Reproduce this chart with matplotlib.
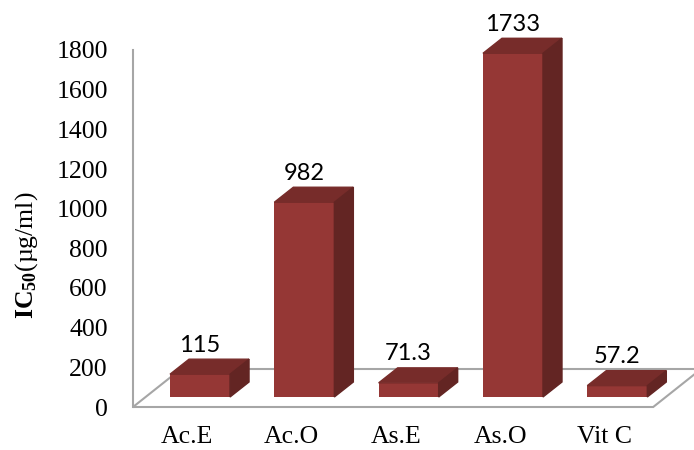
import matplotlib.pyplot as plt
from matplotlib.patches import Polygon

categories = ["Ac.E", "Ac.O", "As.E", "As.O", "Vit C"]
ic50 = [115, 982, 71.3, 1733, 57.2]
value_labels = ["115", "982", "71.3", "1733", "57.2"]
yticks = [0, 200, 400, 600, 800, 1000, 1200, 1400, 1600, 1800]

plt.rcParams['mathtext.fontset'] = 'custom'
plt.rcParams['mathtext.rm'] = 'Liberation Serif'
plt.rcParams['mathtext.bf'] = 'Liberation Serif:bold'

W, H = 694, 450
fig = plt.figure(figsize=(W / 100, H / 100), dpi=100)
ax = fig.add_axes([133 / W, 43 / H, (W - 133) / W, 357 / H])
ax.set_xlim(-0.5216, 4.856)
ax.set_ylim(0, 1800)

# pixel -> data unit helpers for the fake 3d depth
px_x = 1 / 104.3
px_y = 1800 / 357
slant = 1.26

front = "#953735"
top = "#772C2A"
side = "#632523"
grey = "#A6A6A6"

# floor of the 3d plot
fd = 38
floor = Polygon([(-0.5216, 0), (4.465, 0),
                 (4.465 + fd * slant * px_x, fd * px_y),
                 (-0.5216 + fd * slant * px_x, fd * px_y)],
                closed=True, fill=False, edgecolor=grey, lw=1.5,
                zorder=1, clip_on=False)
ax.add_patch(floor)

base = 10 * px_y
shift = 10 * slant * px_x
bw = 60 * px_x
bdx = 19 * px_x
bdy = 15 * px_y

for i, v in enumerate(ic50):
    xc = i + shift
    x0, x1 = xc - bw / 2, xc + bw / 2
    ax.bar(xc, v, width=bw, bottom=base, color=front, zorder=3, clip_on=False)
    ax.add_patch(Polygon([(x0, base + v), (x1, base + v),
                          (x1 + bdx, base + v + bdy), (x0 + bdx, base + v + bdy)],
                         closed=True, color=top, zorder=3, clip_on=False))
    ax.add_patch(Polygon([(x1, base), (x1 + bdx, base + bdy),
                          (x1 + bdx, base + v + bdy), (x1, base + v)],
                         closed=True, color=side, zorder=3, clip_on=False))
    ax.annotate(value_labels[i], (xc, base + v + bdy), xytext=(0, 10),
                textcoords="offset points", ha="center", va="center",
                fontsize=17, family="Lato", annotation_clip=False)

for s in ["top", "right", "bottom"]:
    ax.spines[s].set_visible(False)
ax.spines["left"].set_color(grey)
ax.spines["left"].set_linewidth(1.5)

ax.set_yticks(yticks)
ax.set_yticklabels([str(t) for t in yticks], family="Liberation Serif", fontsize=18.5)
ax.set_xticks(range(len(categories)))
ax.set_xticklabels(categories, family="Liberation Serif", fontsize=18.5)
ax.tick_params(axis="y", length=0, pad=18)
ax.tick_params(axis="x", length=0, pad=14)

fig.text(27 / W, 1 - 255 / H, r"$\mathbf{IC_{50}}$(µg/ml)", rotation=90,
         ha="center", va="center", family="Liberation Serif", fontsize=18.5)

fig.savefig("out.png", dpi=100)
